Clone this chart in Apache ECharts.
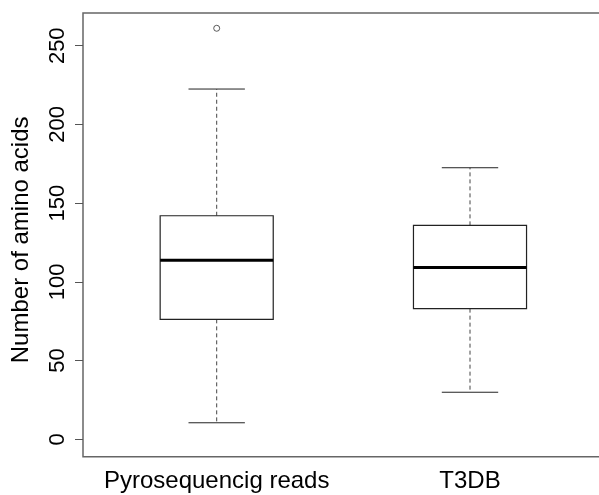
<!DOCTYPE html>
<html>
<head>
<meta charset="utf-8">
<script src="https://cdn.jsdelivr.net/npm/echarts@6/dist/echarts.min.js"></script>
<style>html,body{margin:0;padding:0;background:#fff}#c{width:599px;height:495px}</style>
</head>
<body>
<div id="c"></div>
<script>
const categories = ['Pyrosequencig reads', 'T3DB'];
const whiskerLow = [10.5, 29.9];
const q1 = [76.2, 83.0];
const median = [113.7, 109.2];
const q3 = [142.0, 135.9];
const whiskerHigh = [222.5, 172.5];
const outlierCat = [0];
const outlierVal = [261.1];
const yTicks = [0, 50, 100, 150, 200, 250];

const boxHalf = 0.2232;
const capHalf = 0.1113;

const boxData = categories.map((c, i) => [i + 1, whiskerLow[i], q1[i], median[i], q3[i], whiskerHigh[i]]);
const outData = outlierCat.map((c, i) => [c + 1, outlierVal[i]]);

const chart = echarts.init(document.getElementById('c'), null, {renderer: 'canvas'});
const FONT = '"Liberation Sans", Arial, sans-serif';

chart.setOption({
  animation: false,
  backgroundColor: '#fff',
  grid: {left: 83, top: 13, width: 540, height: 443.7, show: true, borderColor: '#666', borderWidth: 1.5, backgroundColor: 'transparent', outerBoundsMode: 'none', containLabel: false},
  xAxis: {
    type: 'value', min: 0.4722, max: 2.604,
    axisLine: {show: false}, axisTick: {show: false}, splitLine: {show: false},
    axisLabel: {
      customValues: [1, 2], margin: 13, fontSize: 24, fontFamily: FONT, color: '#000',
      formatter: v => categories[Math.round(v) - 1] || ''
    }
  },
  yAxis: {
    type: 'value', min: -11.05, max: 270.8,
    name: 'Number of amino acids', nameLocation: 'middle', nameRotate: 90, nameGap: 50,
    nameTextStyle: {fontSize: 24, fontFamily: FONT, color: '#000', padding: [0, 10, 0, 0]},
    axisLine: {show: false}, splitLine: {show: false},
    axisTick: {show: true, customValues: yTicks, length: 8, lineStyle: {color: '#555', width: 1}},
    axisLabel: {customValues: yTicks, rotate: 90, margin: 14, fontSize: 22, fontFamily: FONT, color: '#000'}
  },
  series: [{
    type: 'custom',
    data: boxData,
    renderItem: function (params, api) {
      const x = api.value(0);
      const lo = api.coord([x, api.value(1)]);
      const a = api.coord([x, api.value(2)]);
      const m = api.coord([x, api.value(3)]);
      const b = api.coord([x, api.value(4)]);
      const hi = api.coord([x, api.value(5)]);
      const bl = api.coord([x - boxHalf, 0])[0];
      const br = api.coord([x + boxHalf, 0])[0];
      const cl = api.coord([x - capHalf, 0])[0];
      const cr = api.coord([x + capHalf, 0])[0];
      const dash = {stroke: '#444', lineWidth: 1, lineDash: [4, 3]};
      const solid = {stroke: '#222', lineWidth: 1};
      return {
        type: 'group',
        children: [
          {type: 'line', shape: {x1: m[0], y1: b[1], x2: m[0], y2: hi[1]}, style: dash},
          {type: 'line', shape: {x1: m[0], y1: a[1], x2: m[0], y2: lo[1]}, style: dash},
          {type: 'line', shape: {x1: cl, y1: hi[1], x2: cr, y2: hi[1]}, style: solid},
          {type: 'line', shape: {x1: cl, y1: lo[1], x2: cr, y2: lo[1]}, style: solid},
          {type: 'rect', shape: {x: bl, y: b[1], width: br - bl, height: a[1] - b[1]}, style: {fill: '#fff', stroke: '#222', lineWidth: 1.2}},
          {type: 'line', shape: {x1: bl, y1: m[1], x2: br, y2: m[1]}, style: {stroke: '#000', lineWidth: 3}}
        ]
      };
    }
  }, {
    type: 'scatter',
    data: outData,
    symbol: 'circle', symbolSize: 6,
    itemStyle: {color: '#fff', borderColor: '#333', borderWidth: 1}
  }]
});
</script>
</body>
</html>
